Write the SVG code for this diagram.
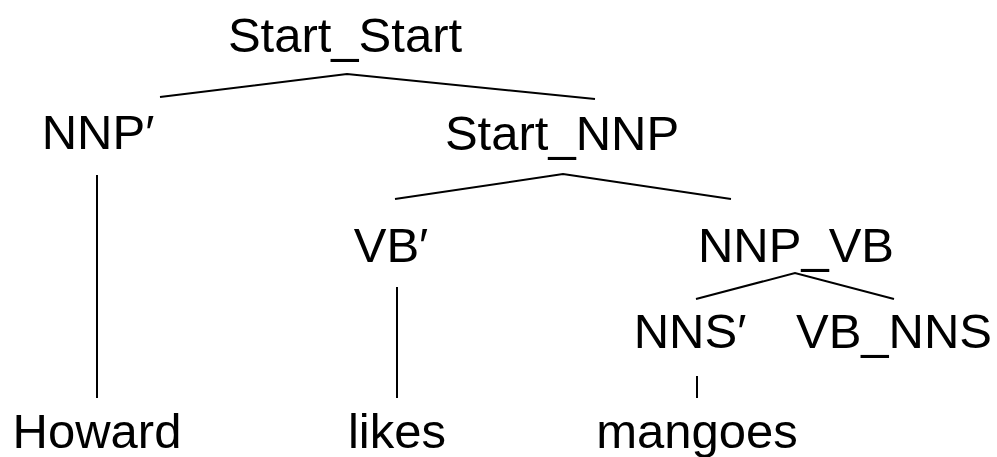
<svg xmlns="http://www.w3.org/2000/svg" width="997" height="457" viewBox="0 0 997 457">
<style>
text{font-family:"Liberation Sans","DejaVu Sans",sans-serif;font-size:49px;fill:#000;text-anchor:middle}
.e{stroke:#000;stroke-width:2;fill:none}
</style>
<rect width="997" height="457" fill="#fff"/>
<g id="connectors">
<polyline class="e" points="160,97 347,74 595,99"/>
<line class="e" x1="97" y1="175" x2="97" y2="398"/>
<polyline class="e" points="395,199 563,174 731,199"/>
<line class="e" x1="397" y1="287" x2="397" y2="398"/>
<polyline class="e" points="696,299 795,273 894,299"/>
<line class="e" x1="697" y1="376" x2="697" y2="398"/>
</g>
<g id="n-start-start"><text x="345" y="52">Start_Start</text></g>
<g id="n-nnp"><text x="98" y="149">NNP′</text></g>
<g id="n-start-nnp"><text x="562" y="150">Start_NNP</text></g>
<g id="n-vb"><text x="391" y="262">VB′</text></g>
<g id="n-nnp-vb"><text x="796" y="262">NNP_VB</text></g>
<g id="n-nns"><text x="690" y="348">NNS′</text></g>
<g id="n-vb-nns"><text x="894" y="348">VB_NNS</text></g>
<g id="n-howard"><text x="97" y="448">Howard</text></g>
<g id="n-likes"><text x="397" y="448">likes</text></g>
<g id="n-mangoes"><text x="697" y="448">mangoes</text></g>
</svg>
